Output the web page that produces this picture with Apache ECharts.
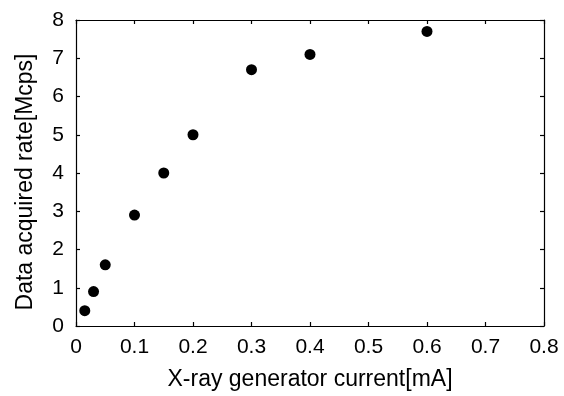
<!DOCTYPE html>
<html>
<head>
<meta charset="utf-8">
<script src="https://cdn.jsdelivr.net/npm/echarts@6/dist/echarts.min.js"></script>
<style>
html, body { margin: 0; padding: 0; background: #fff; }
#chartDiv { width: 564px; height: 396px; }
</style>
</head>
<body>
<div id="chartDiv"></div>
<script>
var currentMA = [0.015, 0.03, 0.05, 0.1, 0.15, 0.2, 0.3, 0.4, 0.6];
var rateMcps = [0.4, 0.9, 1.6, 2.9, 4.0, 5.0, 6.7, 7.1, 7.7];

var points = [];
for (var i = 0; i < currentMA.length; i++) {
    points.push([currentMA[i], rateMcps[i]]);
}

var myChart = echarts.init(document.getElementById('chartDiv'));
var font = '"Liberation Sans", Arial, Helvetica, sans-serif';
var lineStyle = {color: '#000', width: 1.2};

function axisBase(extra) {
    var base = {
        type: 'value',
        axisLine: {show: true, onZero: false, lineStyle: lineStyle},
        axisTick: {show: true, inside: true, length: 4, lineStyle: lineStyle},
        splitLine: {show: false}
    };
    for (var k in extra) base[k] = extra[k];
    return base;
}

myChart.setOption({
    animation: false,
    backgroundColor: '#fff',
    grid: {left: 76, right: 20, top: 20, bottom: 68},
    xAxis: [
        axisBase({
            min: 0, max: 0.8, interval: 0.1,
            position: 'bottom',
            name: 'X-ray generator current[mA]',
            nameLocation: 'middle',
            nameGap: 42,
            nameTextStyle: {color: '#000', fontSize: 23, fontFamily: font},
            axisLabel: {color: '#000', fontSize: 21, fontFamily: font, margin: 11,
                formatter: function (v) { return v === 0 ? '0' : v.toFixed(1); }}
        }),
        axisBase({
            min: 0, max: 0.8, interval: 0.1,
            position: 'top',
            axisLabel: {show: false}
        })
    ],
    yAxis: [
        axisBase({
            min: 0, max: 8, interval: 1,
            position: 'left',
            name: 'Data acquired rate[Mcps]',
            nameLocation: 'middle',
            nameGap: 39,
            nameTextStyle: {color: '#000', fontSize: 23, fontFamily: font, padding: [0, 18, 0, 0]},
            axisLabel: {color: '#000', fontSize: 21, fontFamily: font, margin: 12}
        }),
        axisBase({
            min: 0, max: 8, interval: 1,
            position: 'right',
            axisLabel: {show: false}
        })
    ],
    series: [{
        type: 'scatter',
        data: points,
        symbol: 'circle',
        symbolSize: 11,
        itemStyle: {color: '#000', opacity: 1}
    }]
});
</script>
</body>
</html>
